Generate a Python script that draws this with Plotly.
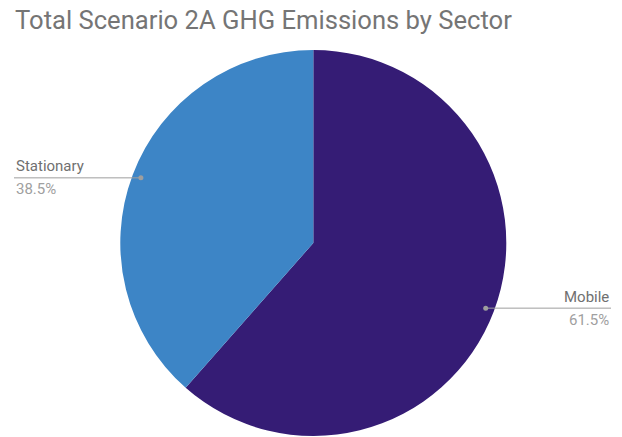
import math
import plotly.graph_objects as go

# Data
sectors = ["Mobile", "Stationary"]
values = [61.5, 38.5]
colors = ["#351c75", "#3d85c6"]
title_text = "Total Scenario 2A GHG Emissions by Sector"

W, H = 622, 437
cx, cy, R = 313.3, 243, 193  # pixel center (from top) and radius

def px(x):
    return x / W

def py(y):
    return 1 - y / H

fig = go.Figure()
fig.add_trace(go.Pie(
    labels=sectors, values=values, sort=False, direction="clockwise", rotation=0,
    marker=dict(colors=colors, line=dict(width=0)),
    textinfo="none", hoverinfo="label+percent", showlegend=False,
    domain=dict(x=[px(cx - R), px(cx + R)], y=[py(cy + R), py(cy - R)]),
))

total = sum(values)
shapes = []
annotations = []
start = 0.0
for name, v in zip(sectors, values):
    frac = v / total
    mid = (start + frac / 2) * 2 * math.pi
    start += frac
    dx = math.sin(mid) * R * 0.955
    dy = -math.cos(mid) * R * 0.955
    dotx, doty = cx + dx, cy + dy
    right = dx > 0
    edge = 611 if right else 14
    shapes.append(dict(type="line", xref="paper", yref="paper",
                       x0=px(dotx), y0=py(doty), x1=px(edge), y1=py(doty),
                       line=dict(color="#9e9e9e", width=1)))
    shapes.append(dict(type="circle", xref="paper", yref="paper",
                       x0=px(dotx - 2.5), x1=px(dotx + 2.5), y0=py(doty - 2.5), y1=py(doty + 2.5),
                       fillcolor="#9e9e9e", line=dict(width=0)))
    anchor = "right" if right else "left"
    annotations.append(dict(x=px(edge), y=py(doty - 0.5), xref="paper", yref="paper",
                            text=name, showarrow=False, xanchor=anchor, yanchor="bottom",
                            font=dict(family="Roboto", size=15, color="#707070")))
    annotations.append(dict(x=px(edge), y=py(doty + 0.5), xref="paper", yref="paper",
                            text=f"{v:.1f}%", showarrow=False, xanchor=anchor, yanchor="top",
                            font=dict(family="Roboto", size=15, color="#a0a0a0")))

annotations.append(dict(x=px(13), y=py(19.5), xref="paper", yref="paper", text=title_text,
                        showarrow=False, xanchor="left", yanchor="middle",
                        font=dict(family="Roboto", size=25.6, color="#757575")))

fig.update_layout(width=W, height=H, margin=dict(l=0, r=0, t=0, b=0),
                  paper_bgcolor="white", plot_bgcolor="white",
                  shapes=shapes, annotations=annotations)
fig.write_html("out.html", config={"displayModeBar": False},
               post_script="document.body.style.margin='0px';")
